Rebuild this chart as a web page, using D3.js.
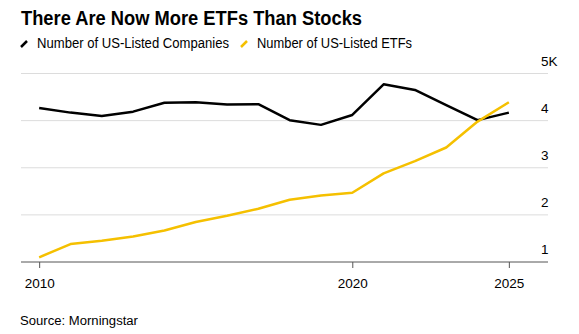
<!DOCTYPE html>
<html><head><meta charset="utf-8">
<script src="https://cdn.jsdelivr.net/npm/d3@7"></script>
<style>
body{margin:0;background:#fff;}
svg text{font-family:"Liberation Sans",Arial,sans-serif;}
</style></head>
<body><svg id="c" width="579" height="334"></svg>
<script>
const years = [2010,2011,2012,2013,2014,2015,2016,2017,2018,2019,2020,2021,2022,2023,2024,2025];
const companies = [4.27,4.17,4.10,4.19,4.38,4.39,4.34,4.35,4.01,3.91,4.12,4.77,4.65,4.33,4.01,4.17];
const etfs = [1.10,1.38,1.45,1.54,1.67,1.85,1.98,2.13,2.32,2.41,2.47,2.88,3.14,3.43,3.98,4.39];
const yTicks = [1,2,3,4,5];
const yTickLabels = ["1","2","3","4","5K"];
const xTicks = [2010,2020,2025];
const seriesNames = ["Number of US-Listed Companies","Number of US-Listed ETFs"];
const colors = ["#000000","#f5c000"];

const svg = d3.select("#c");
const x = d3.scaleLinear().domain([2009.42,2026.25]).range([21,548]);
const y = d3.scaleLinear().domain([1,5]).range([262,73.5]);

svg.append("text").attr("x",21).attr("y",25).attr("font-size",19.5).attr("font-weight","bold")
  .attr("fill","#000").attr("textLength",341).attr("lengthAdjust","spacingAndGlyphs")
  .text("There Are Now More ETFs Than Stocks");

// legend
const leg = svg.append("g");
leg.append("line").attr("x1",21).attr("y1",47).attr("x2",27).attr("y2",41).attr("stroke",colors[0]).attr("stroke-width",2.5);
leg.append("text").attr("x",37).attr("y",48).attr("font-size",14).attr("fill","#000")
  .attr("textLength",192).attr("lengthAdjust","spacingAndGlyphs").text(seriesNames[0]);
leg.append("line").attr("x1",241).attr("y1",47).attr("x2",247).attr("y2",41).attr("stroke",colors[1]).attr("stroke-width",2.5);
leg.append("text").attr("x",257).attr("y",48).attr("font-size",14).attr("fill","#000")
  .attr("textLength",155).attr("lengthAdjust","spacingAndGlyphs").text(seriesNames[1]);

// gridlines
svg.append("g").selectAll("line").data(yTicks.slice(1)).join("line")
  .attr("x1",21).attr("x2",548).attr("y1",d=>y(d)).attr("y2",d=>y(d))
  .attr("stroke","#dcdcdc").attr("stroke-width",1);
// y labels
svg.append("g").selectAll("text").data(yTicks).join("text")
  .attr("x",541).attr("y",d=>y(d)-8).attr("font-size",13.5).attr("fill","#000")
  .text((d,i)=>yTickLabels[i]);

// x axis
const xa = svg.append("g").attr("transform",`translate(0,${y(1)})`)
  .call(d3.axisBottom(x).tickValues(xTicks).tickFormat(d3.format("d")).tickSize(6).tickPadding(10));
xa.select(".domain").attr("stroke","#555").attr("d",`M21,0H548`);
xa.selectAll(".tick line").attr("stroke","#555");
xa.selectAll(".tick text").attr("font-size",13.5).attr("fill","#000").attr("font-family","Liberation Sans,Arial,sans-serif");

const line = d3.line().x((d,i)=>x(years[i])).y(d=>y(d));
svg.append("path").datum(companies).attr("d",line).attr("fill","none").attr("stroke",colors[0]).attr("stroke-width",2.5).attr("stroke-linejoin","round");
svg.append("path").datum(etfs).attr("d",line).attr("fill","none").attr("stroke",colors[1]).attr("stroke-width",2.5).attr("stroke-linejoin","round");

svg.append("text").attr("x",20).attr("y",325).attr("font-size",12.5).attr("fill","#000")
  .attr("textLength",118).attr("lengthAdjust","spacingAndGlyphs").text("Source: Morningstar");
</script></body></html>
